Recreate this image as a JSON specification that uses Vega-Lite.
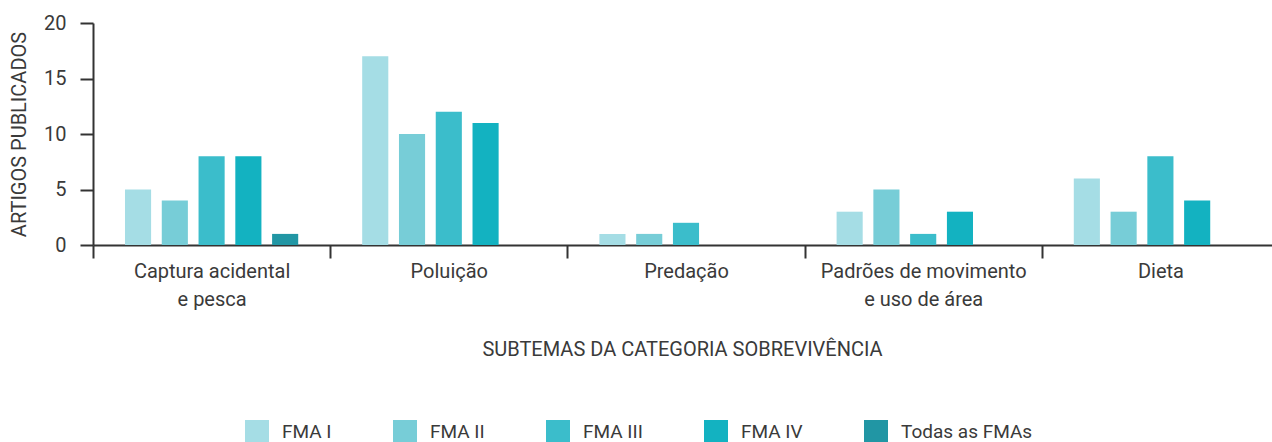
{
  "$schema": "https://vega.github.io/schema/vega-lite/v6.json",
  "width": 1186,
  "height": 222,
  "autosize": {"type": "none"},
  "padding": {"left": 93, "top": 23, "right": 0, "bottom": 197},
  "background": "white",
  "config": {
    "font": "Roboto",
    "view": {"stroke": null},
    "axis": {"labelColor": "#3a3a3a", "titleColor": "#3a3a3a", "domainColor": "#333333", "tickColor": "#333333", "domainWidth": 2, "tickWidth": 2, "labelFontSize": 20, "titleFontSize": 20, "titleFontWeight": "normal", "grid": false}
  },
  "data": {
    "values": [
      {"cat": "Captura acidental e pesca", "fma": "FMA I", "n": 5},
      {"cat": "Captura acidental e pesca", "fma": "FMA II", "n": 4},
      {"cat": "Captura acidental e pesca", "fma": "FMA III", "n": 8},
      {"cat": "Captura acidental e pesca", "fma": "FMA IV", "n": 8},
      {"cat": "Captura acidental e pesca", "fma": "Todas as FMAs", "n": 1},
      {"cat": "Poluição", "fma": "FMA I", "n": 17},
      {"cat": "Poluição", "fma": "FMA II", "n": 10},
      {"cat": "Poluição", "fma": "FMA III", "n": 12},
      {"cat": "Poluição", "fma": "FMA IV", "n": 11},
      {"cat": "Predação", "fma": "FMA I", "n": 1},
      {"cat": "Predação", "fma": "FMA II", "n": 1},
      {"cat": "Predação", "fma": "FMA III", "n": 2},
      {"cat": "Padrões de movimento e uso de área", "fma": "FMA I", "n": 3},
      {"cat": "Padrões de movimento e uso de área", "fma": "FMA II", "n": 5},
      {"cat": "Padrões de movimento e uso de área", "fma": "FMA III", "n": 1},
      {"cat": "Padrões de movimento e uso de área", "fma": "FMA IV", "n": 3},
      {"cat": "Dieta", "fma": "FMA I", "n": 6},
      {"cat": "Dieta", "fma": "FMA II", "n": 3},
      {"cat": "Dieta", "fma": "FMA III", "n": 8},
      {"cat": "Dieta", "fma": "FMA IV", "n": 4}
    ]
  },
  "mark": {"type": "bar"},
  "encoding": {
    "x": {
      "field": "cat", "type": "nominal", "sort": null,
      "scale": {"domain": ["Captura acidental e pesca", "Poluição", "Predação", "Padrões de movimento e uso de área", "Dieta"], "paddingInner": 0, "paddingOuter": 0},
      "axis": {
        "title": "SUBTEMAS DA CATEGORIA SOBREVIVÊNCIA",
        "labelAngle": 0, "tickBand": "extent", "tickSize": 13, "labelPadding": 3,
        "labelLineHeight": 28, "labelBaseline": "top", "labelLimit": 400,
        "labelExpr": "datum.value == 'Captura acidental e pesca' ? ['Captura acidental', 'e pesca'] : datum.value == 'Padrões de movimento e uso de área' ? ['Padrões de movimento', 'e uso de área'] : datum.value",
        "titlePadding": 30, "titleX": 589
      }
    },
    "xOffset": {
      "field": "fma", "type": "nominal",
      "scale": {"domain": ["FMA I", "FMA II", "FMA III", "FMA IV", "Todas as FMAs"], "paddingInner": 0.29, "paddingOuter": 0.87}
    },
    "y": {
      "field": "n", "type": "quantitative",
      "scale": {"domain": [0, 20], "nice": false},
      "axis": {"title": "ARTIGOS PUBLICADOS", "values": [0, 5, 10, 15, 20], "tickSize": 13, "labelPadding": 14, "titlePadding": 14}
    },
    "color": {
      "field": "fma", "type": "nominal",
      "scale": {"domain": ["FMA I", "FMA II", "FMA III", "FMA IV", "Todas as FMAs"], "range": ["#a5dde5", "#77cdd7", "#3bbdcb", "#13b2c1", "#2196a4"]},
      "legend": {
        "title": null, "orient": "none", "legendX": 152, "legendY": 397,
        "direction": "horizontal", "symbolType": "square", "symbolSize": 576,
        "symbolStrokeWidth": 0, "labelFontSize": 19, "labelColor": "#3a3a3a",
        "labelOffset": 13, "columnPadding": 61, "labelLimit": 300
      }
    }
  }
}
